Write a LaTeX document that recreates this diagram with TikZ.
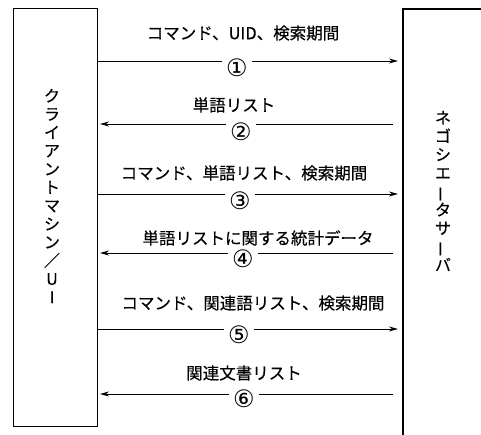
\documentclass[tikz,border=0pt]{standalone}
\usepackage{fontspec}
\usepackage{graphicx}
\setmainfont{Noto Sans CJK JP}[BoldFont={Noto Sans CJK JP},BoldFeatures={FakeBold=0.3}]
\newfontfamily\circfont{DejaVu Sans}
\usetikzlibrary{arrows.meta}
\begin{document}
\begin{tikzpicture}[x=1pt,y=-1pt,
  boxline/.style={line width=1.1pt},
  msg/.style={line width=0.9pt,-{Stealth[length=9pt,width=5pt]}},
  lbl/.style={font=\fontsize{16.5}{18}\selectfont\bfseries,inner sep=0pt},
  num/.style={font=\circfont\fontsize{24}{25}\selectfont,fill=white,inner xsep=4pt,inner ysep=0pt},
  vtext/.style={font=\fontsize{16}{18.3}\selectfont\bfseries,align=center,inner sep=0pt}]
\useasboundingbox (0,0) rectangle (481,435);
% boxes
\node[draw,boxline,minimum width=84pt,minimum height=418pt,anchor=north west,inner sep=0pt] (client) at (13,8) {};
\draw[boxline] (481,9) -| (403,435);
\coordinate (srv) at (403,9);
\coordinate (srvin) at (398,9);
\coordinate (srvout) at (393,9);
\coordinate (clin) at (100,9);
% vertical labels
\node[vtext] (clientlabel) at (52,196) {ク\\ラ\\イ\\ア\\ン\\ト\\マ\\シ\\ン\\／\\U\\I};
\node[vtext,font=\fontsize{16}{18.4}\selectfont\bfseries] (serverlabel) at (443,191) {ネ\\ゴ\\シ\\エ\\\rotatebox[origin=c]{90}{ー}\\タ\\サ\\\rotatebox[origin=c]{90}{ー}\\バ};
% message 1
\draw[msg] (client.east |- 0,61) -- (srvin |- 0,61);
\node[num] (n1) at (237,68) {①};
\node[lbl] (t1) at (243,33) {コマンド、UID、検索期間};
% message 2
\draw[msg] (srvout |- 0,124) -- (clin |- 0,124);
\node[num] (n2) at (241,132) {②};
\node[lbl] (t2) at (234,105) {単語リスト};
% message 3
\draw[msg] (client.east |- 0,194) -- (srvin |- 0,194);
\node[num] (n3) at (240,201) {③};
\node[lbl] (t3) at (244,173) {コマンド、単語リスト、検索期間};
% message 4
\draw[msg] (srvout |- 0,253) -- (clin |- 0,253);
\node[num] (n4) at (243,259) {④};
\node[lbl] (t4) at (258,238) {単語リストに関する統計データ};
% message 5
\draw[msg] (client.east |- 0,329) -- (srvin |- 0,329);
\node[num] (n5) at (239,335) {⑤};
\node[lbl] (t5) at (253,303) {コマンド、関連語リスト、検索期間};
% message 6
\draw[msg] (srvout |- 0,394) -- (clin |- 0,394);
\node[num] (n6) at (244,399) {⑥};
\node[lbl] (t6) at (244,373) {関連文書リスト};
\end{tikzpicture}
\end{document}
